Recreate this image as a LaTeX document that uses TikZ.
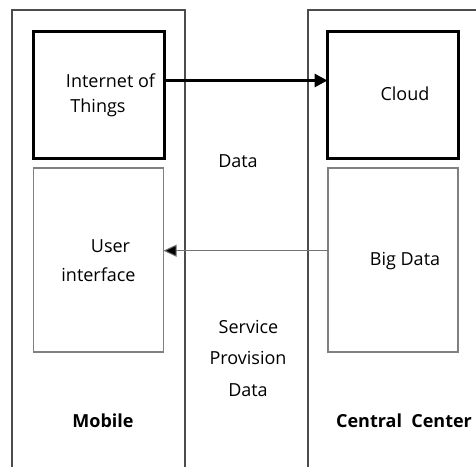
\documentclass[tikz,border=0pt]{standalone}
\usepackage{fontspec}
\setmainfont{Open Sans}
\usetikzlibrary{arrows.meta}
\begin{document}
\begin{tikzpicture}[x=1pt,y=-1pt,
  panel/.style={draw=black!70, line width=1.2pt},
  heavybox/.style={draw=black, line width=3pt, inner sep=0pt, outer sep=0pt, minimum width=131pt, minimum height=127pt},
  lightbox/.style={draw=black!50, line width=1.3pt, inner sep=0pt, outer sep=0pt, minimum width=130pt, minimum height=184pt},
  lbl/.style={font=\fontsize{18}{21}\selectfont, inner sep=0pt, anchor=center},
  blbl/.style={font=\fontsize{18}{21}\selectfont\bfseries, inner sep=0pt, anchor=center},
  heavyarrow/.style={draw=black, line width=3pt, -{Triangle[length=13pt,width=13pt]}},
  lightarrow/.style={draw=black!55, line width=1pt, -{Triangle[length=13pt,width=12pt,fill=black]}}
]
\useasboundingbox (0,0) rectangle (476,467);
\draw[panel] (12,467) -- (12,10) -- (185,10) -- (185,467);
\draw[panel] (308,467) -- (308,10) -- (476,10);

\node[heavybox] (iot) at (98.5,94.5) {};
\node[heavybox] (cloud) at (393,94.5) {};
\node[lightbox] (ui) at (98.5,260) {};
\node[lightbox] (bigdata) at (393,260) {};

\node[lbl] (t1) at (110.5,80.5) {Internet of};
\node[lbl] (t2) at (98,108) {Things};
\node[lbl] (t3) at (405,94) {Cloud};
\node[lbl] (t4) at (238,161) {Data};
\node[lbl] (t5) at (110.5,246) {User};
\node[lbl] (t6) at (98.5,274.5) {interface};
\node[lbl] (t7) at (405,261) {Big Data};
\node[lbl] (t8) at (248.5,326.5) {Service};
\node[lbl] (t9) at (248,358) {Provision};
\node[lbl] (t10) at (248,390.5) {Data};
\node[blbl] (t11) at (103,420.5) {Mobile};
\node[blbl] (t12) at (404,420.5) {Central\ \ Center};

\draw[heavyarrow] ([yshift=14pt]iot.east) -- ([yshift=14pt]cloud.west);
\draw[lightarrow] ([yshift=9.3pt]bigdata.west) -- ([yshift=9.3pt]ui.east);
\end{tikzpicture}
\end{document}
